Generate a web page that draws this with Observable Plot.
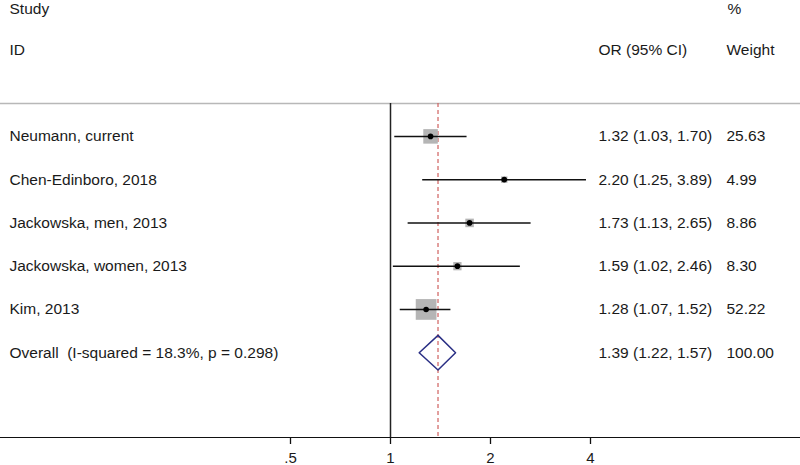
<!DOCTYPE html>
<html>
<head>
<meta charset="utf-8">
<script src="https://cdn.jsdelivr.net/npm/d3@7"></script>
<script src="https://cdn.jsdelivr.net/npm/@observablehq/plot@0.6"></script>
<style>
  html, body { margin: 0; padding: 0; background: #fff; }
  svg { overflow: visible; }
</style>
</head>
<body>
<div id="chart"></div>
<script>
// ---- data ----
const studies = ["Neumann, current", "Chen-Edinboro, 2018", "Jackowska, men, 2013", "Jackowska, women, 2013", "Kim, 2013"];
const orEst = [1.32, 2.20, 1.73, 1.59, 1.28];
const ciLow = [1.03, 1.25, 1.13, 1.02, 1.07];
const ciHigh = [1.70, 3.89, 2.65, 2.46, 1.52];
const weights = [25.63, 4.99, 8.86, 8.30, 52.22];
const overallLabel = "Overall  (I-squared = 18.3%, p = 0.298)";
const overallEst = 1.39, overallLow = 1.22, overallHigh = 1.57, overallWeight = 100.00;
const xTicks = [0.5, 1, 2, 4];
const xTickLabels = [".5", "1", "2", "4"];

const f2 = d3.format(".2f");
const rows = studies.map((s, i) => ({
  row: i, study: s, est: orEst[i], lo: ciLow[i], hi: ciHigh[i], w: weights[i],
  ci: `${f2(orEst[i])} (${f2(ciLow[i])}, ${f2(ciHigh[i])})`, wt: f2(weights[i])
}));
const overallRow = {
  row: studies.length, study: overallLabel, est: overallEst, lo: overallLow, hi: overallHigh,
  ci: `${f2(overallEst)} (${f2(overallLow)}, ${f2(overallHigh)})`, wt: f2(overallWeight)
};
const allRows = [...rows, overallRow];
const dh = 0.4; // diamond half-height in row units
const diamond = [
  {x: overallLow, y: overallRow.row},
  {x: overallEst, y: overallRow.row - dh},
  {x: overallHigh, y: overallRow.row},
  {x: overallEst, y: overallRow.row + dh},
  {x: overallLow, y: overallRow.row}
];
const tickData = xTicks.map((t, i) => ({t, label: xTickLabels[i]}));
const labelFor = (d) => xTickLabels[xTicks.findIndex((t) => Math.abs(t - d) < 1e-9)] ?? "";

const font = "Arial, 'Liberation Sans', Helvetica, sans-serif";
const txt = "#1a1a1a";
const fs = 15.5;
const tickSize = 7, tickPadding = 8;

const chart = Plot.plot({
  width: 800,
  height: 465,
  marginTop: 103,
  marginBottom: 28,
  marginLeft: 0,
  marginRight: 0,
  style: {fontFamily: font, fontSize: fs + "px", color: txt, background: "#fff"},
  x: {type: "log", domain: [Math.pow(2, -3.9), Math.pow(2, 4.1)], range: [0, 800], axis: null},
  y: {domain: [-0.76, 6.96], range: [103, 437], axis: null},
  r: {type: "sqrt", domain: [0, 52.22], range: [0, 11.7]},
  marks: [
    // top separator
    Plot.frame({anchor: "top", stroke: "#b8b8b8", strokeWidth: 1.5}),
    // x axis: ticks and labels
    Plot.axisX({
      ticks: xTicks,
      tickSize,
      tickPadding,
      tickFormat: labelFor,
      label: null,
      stroke: "#111",
      strokeWidth: 1.3,
      fill: txt,
      fontSize: 15,
      textOverflow: null
    }),
    // sub-unit tick label (the log axis drops it), drawn at the same anchor
    Plot.text(tickData.filter((d) => d.t < 1), {x: "t", text: "label", frameAnchor: "bottom", lineAnchor: "top", dy: tickSize + tickPadding, fill: txt, fontSize: 15}),
    // axis line
    Plot.frame({anchor: "bottom", stroke: "#111", strokeWidth: 1.2}),
    // null line
    Plot.ruleX([1], {stroke: "#222", strokeWidth: 1.5}),
    // overall estimate dashed line
    Plot.ruleX([overallEst], {stroke: "#d0605e", strokeWidth: 1.2, strokeDasharray: "4,3"}),
    // weight boxes
    Plot.dot(rows, {x: "est", y: "row", r: "w", symbol: "square", fill: "#b5b5b5", stroke: "none"}),
    // CI lines
    Plot.ruleY(rows, {y: "row", x1: "lo", x2: "hi", stroke: "#111", strokeWidth: 1.5}),
    // point estimates
    Plot.dot(rows, {x: "est", y: "row", r: 2.8, fill: "#000", stroke: "none"}),
    // overall diamond
    Plot.line(diamond, {x: "x", y: "y", stroke: "#2a2f85", strokeWidth: 1.5}),
    // row texts
    Plot.text(allRows, {y: "row", text: "study", frameAnchor: "left", dx: 9, textAnchor: "start", fill: txt, fontSize: fs}),
    Plot.text(allRows, {y: "row", text: "ci", frameAnchor: "left", dx: 598, textAnchor: "start", fill: txt, fontSize: fs}),
    Plot.text(allRows, {y: "row", text: "wt", frameAnchor: "left", dx: 726, textAnchor: "start", fill: txt, fontSize: fs}),
    // headers
    Plot.text(["Study"], {frameAnchor: "top-left", lineAnchor: "middle", dx: 9, dy: -94, textAnchor: "start", fill: txt, fontSize: fs}),
    Plot.text(["ID"], {frameAnchor: "top-left", lineAnchor: "middle", dx: 9, dy: -53, textAnchor: "start", fill: txt, fontSize: fs}),
    Plot.text(["OR (95% CI)"], {frameAnchor: "top-left", lineAnchor: "middle", dx: 598, dy: -53, textAnchor: "start", fill: txt, fontSize: fs}),
    Plot.text(["%"], {frameAnchor: "top-left", lineAnchor: "middle", dx: 727, dy: -94, textAnchor: "start", fill: txt, fontSize: fs}),
    Plot.text(["Weight"], {frameAnchor: "top-left", lineAnchor: "middle", dx: 726, dy: -53, textAnchor: "start", fill: txt, fontSize: fs})
  ]
});
document.getElementById("chart").appendChild(chart);
</script>
</body>
</html>
